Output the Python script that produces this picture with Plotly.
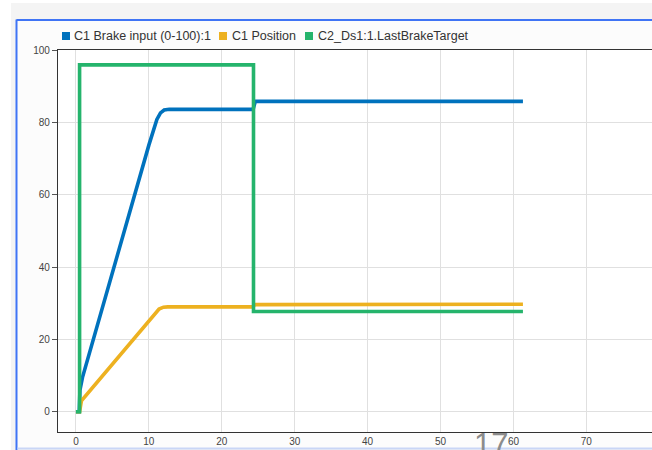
import plotly.graph_objects as go

# ---- data ----
brake_t = [0, 0.45, 0.55, 0.9, 10.0, 10.6, 11.1, 11.6, 12.1, 12.8, 24.3, 24.6, 61.3]
brake_v = [0, 0, 6, 9.5, 73.7, 77.8, 80.8, 82.6, 83.4, 83.6, 83.6, 85.8, 85.8]

pos_t = [0, 0.5, 0.75, 10.0, 10.8, 11.4, 12.0, 12.6, 24.3, 24.5, 61.3]
pos_v = [0, 0, 3.0, 25.0, 27.2, 28.4, 28.9, 29.0, 29.0, 29.6, 29.7]

target_t = [0, 0.5, 0.5, 24.35, 24.35, 61.3]
target_v = [0, 0, 95.9, 95.9, 27.7, 27.7]

series_names = ["C1 Brake input (0-100):1", "C1 Position", "C2_Ds1:1.LastBrakeTarget"]
series_colors = ["#0072bd", "#edb120", "#25b46c"]
x_ticks = [0, 10, 20, 30, 40, 50, 60, 70]
y_ticks = [0, 20, 40, 60, 80, 100]

# ---- geometry (window pixels -> paper); body margin removed via post_script ----
W, H = 652, 450
PLOT_L, PLOT_T, PLOT_B = 58, 50, 432          # window pixels
L, T, B, R = PLOT_L, PLOT_T, H - PLOT_B, 0
PW, PH = W - L - R, H - T - B


def px(X):
    return (X - L) / PW


def py(Y):
    return (PLOT_B - Y) / PH


fig = go.Figure()

for t, v, name, col in zip([brake_t, pos_t, target_t], [brake_v, pos_v, target_v],
                           series_names, series_colors):
    fig.add_trace(go.Scatter(x=t, y=v, mode="lines", name=name,
                             line=dict(color=col, width=3.6),
                             showlegend=False))

shapes = [
    # outer grey page area
    dict(type="rect", xref="paper", yref="paper", x0=px(11), x1=px(700), y0=py(3), y1=py(470),
         fillcolor="#f4f4f4", line=dict(width=0), layer="below"),
    # inner panel
    dict(type="rect", xref="paper", yref="paper", x0=px(16), x1=px(700), y0=py(20), y1=py(448),
         fillcolor="#fcfcfc", line=dict(width=0), layer="below"),
    # blue frame left/top, light bottom edge
    dict(type="line", xref="paper", yref="paper", x0=px(16.5), x1=px(16.5), y0=py(19.5), y1=py(470),
         line=dict(color="#3f74f5", width=2), layer="below"),
    dict(type="line", xref="paper", yref="paper", x0=px(16.5), x1=px(700), y0=py(20), y1=py(20),
         line=dict(color="#3f74f5", width=2), layer="below"),
    dict(type="line", xref="paper", yref="paper", x0=px(17.5), x1=px(700), y0=py(448.5), y1=py(448.5),
         line=dict(color="#c9d6f6", width=2), layer="below"),
    # plot area
    dict(type="rect", xref="paper", yref="paper", x0=0, x1=1.2, y0=0, y1=1,
         fillcolor="white", line=dict(width=0), layer="below"),
]

# legend: coloured squares + labels
legend_sq_x = [62, 219, 305]
legend_txt_x = [72, 230, 316]
LEG_Y = 36
for sx, tx, name, col in zip(legend_sq_x, legend_txt_x, series_names, series_colors):
    shapes.append(dict(type="rect", xref="paper", yref="paper",
                       x0=px(sx), x1=px(sx + 8), y0=py(LEG_Y - 4), y1=py(LEG_Y + 4),
                       fillcolor=col, line=dict(width=0)))

annotations = []
for tx, name in zip(legend_txt_x, series_names):
    annotations.append(dict(text=name, xref="paper", yref="paper", x=px(tx), y=py(LEG_Y),
                            xanchor="left", yanchor="middle", showarrow=False,
                            font=dict(family="Liberation Sans, Arial", size=12.5, color="#333")))

annotations += [
    dict(text="80", xref="paper", yref="paper", x=px(659), y=py(440), xanchor="center", yanchor="middle",
         showarrow=False, font=dict(family="Liberation Sans, Arial", size=10, color="#444")),
    dict(text="17", xref="paper", yref="paper", x=px(491), y=py(425), xanchor="center", yanchor="top",
         showarrow=False, font=dict(family="Liberation Sans, Arial", size=31, color="#8c8c8c")),
]

fig.update_layout(
    width=W, height=H,
    margin=dict(l=L, r=R, t=T, b=B, pad=0),
    paper_bgcolor="white",
    plot_bgcolor="white",
    shapes=shapes,
    annotations=annotations,
    showlegend=False,
    font=dict(family="Liberation Sans, Arial, sans-serif", size=10, color="#444"),
    xaxis=dict(range=[-2.46, 79.0], tickvals=x_ticks, showgrid=True, gridcolor="#e0e0e0", gridwidth=1,
               zeroline=False, showline=True, linecolor="#333", linewidth=1.2, mirror=True,
               ticks="", tickfont=dict(size=10, color="#444")),
    yaxis=dict(range=[-5.6, 100], tickvals=y_ticks, showgrid=True, gridcolor="#e0e0e0", gridwidth=1,
               zeroline=False, showline=True, linecolor="#333", linewidth=1.2,
               ticks="outside", ticklen=5, tickcolor="#555", tickfont=dict(size=10, color="#444")),
)

fig.write_html(
    "out.html",
    config={"displayModeBar": False},
    post_script="document.body.style.margin='0';document.body.style.overflow='hidden';",
)
